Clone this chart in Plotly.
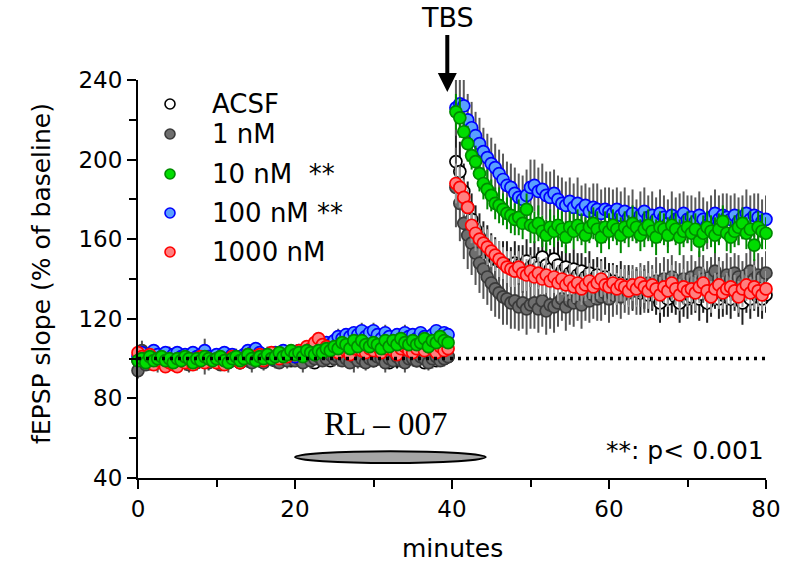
import numpy as np
import plotly.graph_objects as go

# ---------------- data (minutes, % of baseline) ----------------
sample_step = 0.5
t_base = list(np.arange(0, 40, sample_step))          # 0 .. 39.5
t_post = list(np.arange(40.5, 80.01, sample_step))    # 40.5 .. 80
minutes = t_base + t_post

acsf_base = [99, 101, 100, 98, 100, 101, 99, 100, 102, 100,
             99, 100, 101, 100, 98, 99, 101, 100, 100, 99,
             101, 100, 99, 100, 101, 100, 98, 100, 99, 101,
             100, 99, 100, 102, 100, 99, 100, 101, 100, 99,
             100, 101, 99, 100, 100, 98, 100, 101, 100, 99,
             100, 102, 101, 100, 99, 101, 100, 99, 101, 100,
             99, 100, 101, 100, 98, 100, 99, 101, 100, 100,
             101, 99, 100, 98, 100, 101, 99, 100, 100, 101]
acsf_post = [199, 194, 184, 176, 170, 165, 161, 158, 155, 152,
             150, 149, 148, 147, 146, 148, 147, 145, 149, 146,
             148, 146, 151, 147, 145, 150, 147, 144, 146, 143,
             145, 142, 144, 141, 143, 140, 142, 139, 141, 138,
             139, 137, 138, 136, 137, 134, 136, 133, 135, 132,
             134, 131, 128, 132, 130, 133, 131, 128, 132, 130,
             131, 133, 130, 132, 128, 131, 134, 130, 132, 131,
             130, 133, 131, 128, 132, 130, 133, 131, 130, 132]
acsf_base_err = [3, 2, 3, 4, 2, 3, 3, 2, 4, 3, 2, 3, 3, 2, 3, 4, 2, 3, 2, 3,
                 3, 2, 4, 3, 2, 3, 3, 2, 3, 2, 3, 3, 2, 4, 3, 2, 3, 3, 2, 3,
                 2, 3, 3, 2, 4, 3, 2, 3, 3, 2, 3, 2, 3, 3, 2, 4, 3, 2, 3, 3,
                 2, 3, 2, 3, 3, 2, 4, 3, 2, 3, 3, 2, 3, 2, 4, 3, 3, 2, 3, 2]
acsf_post_err = [16, 15, 14, 13, 13, 12, 12, 11, 12, 11, 11, 10, 11, 12, 10, 11, 10, 12, 11, 10,
                 11, 10, 12, 11, 10, 11, 12, 10, 11, 10, 10, 11, 9, 10, 11, 10, 9, 11, 10, 10,
                 9, 10, 11, 9, 10, 10, 9, 11, 10, 9, 10, 9, 10, 11, 9, 10, 9, 10, 11, 10,
                 9, 10, 11, 9, 10, 10, 9, 10, 11, 9, 10, 9, 10, 11, 9, 10, 9, 10, 10, 9]

nm1_base = [94, 104, 97, 99, 101, 98, 100, 97, 99, 100,
            98, 100, 99, 97, 100, 98, 99, 101, 98, 100,
            99, 97, 100, 98, 99, 101, 98, 100, 99, 98,
            100, 99, 98, 100, 101, 99, 98, 100, 99, 101,
            99, 100, 98, 101, 99, 100, 101, 99, 100, 102,
            100, 101, 99, 100, 98, 101, 99, 100, 98, 100,
            99, 101, 100, 98, 100, 99, 101, 99, 98, 100,
            100, 99, 101, 100, 98, 100, 101, 99, 100, 101]
nm1_post = [186, 178, 168, 162, 158, 153, 148, 145, 141, 138,
            135, 133, 131, 130, 128, 129, 126, 128, 125, 127,
            128, 125, 129, 124, 127, 126, 128, 130, 126, 129,
            128, 130, 127, 131, 129, 132, 130, 131, 133, 130,
            132, 134, 131, 135, 133, 136, 134, 137, 135, 138,
            136, 139, 137, 140, 138, 141, 139, 137, 140, 138,
            141, 139, 143, 140, 138, 141, 144, 140, 139, 142,
            140, 143, 141, 139, 142, 144, 140, 142, 141, 143]
nm1_base_err = [4, 5, 3, 4, 3, 5, 4, 3, 4, 3, 4, 3, 5, 4, 3, 4, 3, 9, 4, 3,
                4, 3, 4, 5, 3, 4, 3, 4, 3, 5, 4, 3, 4, 3, 5, 4, 3, 4, 4, 3,
                3, 4, 5, 3, 4, 3, 4, 3, 4, 3, 4, 5, 3, 4, 3, 8, 4, 3, 4, 3,
                3, 4, 3, 5, 4, 3, 4, 3, 5, 4, 4, 3, 4, 3, 4, 5, 4, 3, 4, 3]
nm1_post_err = [20, 19, 18, 17, 16, 16, 15, 15, 14, 14, 14, 13, 14, 13, 13, 14, 12, 13, 13, 12,
                13, 12, 13, 12, 12, 13, 12, 11, 12, 12, 12, 11, 12, 12, 11, 12, 11, 12, 11, 12,
                11, 12, 11, 12, 11, 11, 12, 11, 12, 11, 11, 12, 11, 11, 12, 11, 10, 11, 12, 11,
                11, 10, 11, 12, 11, 10, 11, 11, 10, 11, 11, 10, 11, 10, 11, 12, 10, 11, 10, 11]

nm10_base = [99, 100, 98, 101, 99, 100, 101, 99, 100, 98,
             100, 99, 101, 100, 98, 100, 99, 101, 100, 99,
             100, 101, 99, 98, 100, 101, 99, 100, 102, 100,
             99, 101, 100, 102, 100, 101, 103, 101, 102, 104,
             102, 103, 101, 104, 103, 102, 104, 103, 105, 104,
             106, 105, 108, 107, 105, 109, 106, 109, 107, 106,
             108, 107, 105, 109, 106, 109, 107, 110, 108, 107,
             109, 107, 108, 110, 106, 109, 108, 111, 109, 108]
nm10_post = [224, 221, 214, 208, 202, 199, 193, 188, 185, 182,
             178, 177, 175, 173, 172, 170, 171, 168, 175, 167,
             166, 168, 164, 162, 166, 164, 167, 165, 161, 166,
             164, 167, 165, 162, 166, 168, 165, 161, 166, 164,
             167, 165, 162, 166, 164, 168, 166, 162, 165, 167,
             164, 161, 166, 165, 162, 167, 165, 161, 164, 166,
             163, 165, 159, 163, 166, 164, 162, 165, 169, 163,
             161, 164, 166, 168, 163, 165, 157, 166, 164, 163]
nm10_base_err = [2, 3, 2, 3, 2, 2, 3, 2, 3, 2, 2, 3, 2, 2, 3, 2, 3, 2, 2, 3,
                 2, 3, 2, 3, 2, 2, 3, 2, 3, 2, 3, 2, 2, 3, 2, 3, 2, 2, 3, 2,
                 2, 3, 2, 3, 2, 3, 2, 2, 3, 3, 2, 3, 2, 3, 3, 2, 3, 2, 3, 2,
                 3, 2, 3, 2, 3, 3, 2, 3, 2, 3, 2, 3, 3, 2, 3, 2, 3, 3, 2, 3]
nm10_post_err = [9, 10, 8, 9, 7, 8, 9, 8, 10, 8, 8, 9, 8, 8, 9, 8, 9, 8, 8, 9,
                 8, 9, 8, 8, 9, 8, 8, 9, 8, 8, 9, 8, 8, 9, 8, 8, 9, 8, 8, 9,
                 8, 8, 9, 8, 8, 9, 8, 8, 9, 8, 8, 9, 8, 8, 9, 8, 8, 9, 8, 8,
                 9, 8, 8, 9, 8, 8, 9, 8, 8, 9, 8, 8, 9, 8, 8, 9, 8, 8, 9, 8]

nm100_base = [101, 103, 100, 102, 104, 102, 101, 103, 100, 102,
              103, 101, 102, 100, 103, 101, 102, 104, 101, 100,
              102, 101, 103, 100, 102, 101, 99, 102, 104, 103,
              105, 103, 101, 102, 100, 103, 101, 104, 102, 103,
              101, 104, 102, 105, 103, 104, 106, 105, 108, 107,
              109, 111, 110, 112, 111, 113, 112, 114, 111, 113,
              114, 112, 110, 113, 111, 109, 112, 110, 113, 111,
              112, 110, 113, 111, 109, 112, 114, 111, 113, 112]
nm100_post = [226, 228, 227, 220, 216, 212, 208, 204, 201, 198,
              196, 193, 190, 187, 186, 183, 181, 180, 182, 186,
              187, 184, 185, 182, 181, 183, 180, 178, 177, 179,
              176, 178, 175, 177, 174, 176, 175, 173, 175, 174,
              173, 175, 172, 174, 171, 173, 169, 172, 174, 171,
              172, 170, 173, 171, 168, 172, 170, 171, 173, 170,
              171, 169, 172, 170, 167, 171, 173, 170, 172, 171,
              170, 172, 169, 171, 173, 170, 172, 171, 169, 170]
nm100_base_err = [3, 2, 3, 3, 2, 3, 2, 3, 3, 2, 3, 2, 3, 2, 3, 3, 2, 3, 2, 3,
                  3, 2, 3, 3, 2, 3, 2, 3, 3, 2, 3, 3, 2, 3, 2, 3, 3, 2, 3, 3,
                  3, 2, 3, 3, 2, 3, 3, 2, 3, 4, 3, 4, 3, 3, 4, 3, 3, 4, 3, 3,
                  4, 3, 3, 4, 3, 4, 3, 3, 4, 3, 3, 4, 3, 3, 4, 3, 3, 4, 3, 3]
nm100_post_err = [14, 15, 14, 13, 13, 12, 13, 12, 12, 13, 12, 12, 13, 12, 12, 13, 12, 12, 13, 14,
                  13, 12, 13, 12, 13, 12, 12, 13, 12, 12, 12, 13, 12, 11, 12, 12, 13, 12, 11, 12,
                  12, 11, 12, 12, 11, 12, 11, 12, 12, 11, 12, 11, 12, 11, 12, 12, 11, 12, 11, 12,
                  11, 12, 12, 11, 12, 11, 12, 12, 11, 12, 12, 11, 12, 11, 12, 12, 11, 12, 11, 12]

nm1000_base = [103, 101, 99, 102, 97, 99, 100, 96, 98, 97,
               96, 99, 98, 100, 97, 99, 101, 98, 100, 99,
               98, 100, 97, 99, 101, 100, 98, 100, 102, 101,
               100, 102, 99, 101, 103, 101, 100, 102, 101, 103,
               102, 104, 103, 106, 105, 108, 110, 107, 106, 104,
               105, 103, 106, 104, 102, 105, 107, 104, 103, 105,
               104, 106, 103, 105, 107, 104, 102, 105, 106, 104,
               103, 105, 107, 104, 106, 105, 103, 106, 104, 105]
nm1000_post = [188, 186, 181, 176, 167, 163, 160, 158, 156, 154,
               152, 150, 148, 146, 145, 144, 146, 143, 142, 144,
               141, 143, 140, 142, 139, 141, 138, 140, 137, 139,
               136, 138, 135, 137, 139, 136, 138, 140, 137, 136,
               138, 135, 137, 136, 134, 137, 135, 138, 136, 134,
               137, 135, 132, 136, 134, 138, 135, 132, 136, 134,
               135, 133, 136, 138, 134, 131, 135, 137, 133, 135,
               136, 134, 131, 135, 137, 133, 136, 134, 132, 135]
nm1000_base_err = [3, 2, 3, 2, 3, 3, 2, 3, 2, 3, 2, 3, 3, 2, 3, 2, 3, 2, 3, 3,
                   2, 3, 2, 3, 3, 2, 3, 2, 3, 2, 3, 3, 2, 3, 2, 3, 2, 3, 3, 2,
                   3, 2, 3, 3, 2, 3, 2, 3, 2, 3, 3, 2, 3, 2, 3, 3, 2, 3, 2, 3,
                   2, 3, 3, 2, 3, 2, 3, 3, 2, 3, 3, 2, 3, 2, 3, 3, 2, 3, 2, 3]
nm1000_post_err = [10, 10, 9, 9, 9, 9, 8, 8, 9, 8, 8, 9, 8, 8, 9, 8, 8, 9, 8, 8,
                   9, 8, 8, 9, 8, 8, 9, 8, 8, 9, 8, 9, 8, 8, 9, 8, 8, 9, 8, 8,
                   9, 8, 8, 9, 8, 8, 9, 8, 8, 9, 8, 8, 9, 8, 8, 9, 8, 8, 9, 8,
                   8, 9, 8, 8, 9, 8, 8, 12, 8, 8, 9, 8, 8, 9, 8, 8, 11, 8, 8, 9]

series_names = ["ACSF", "1 nM", "10 nM", "100 nM", "1000 nM"]
legend_labels = ["ACSF", "1 nM", "10 nM  **", "100 nM **", "1000 nM"]
baseline_level = 100
tbs_time = 39.4
drug_start, drug_end = 20, 44.3
x_ticks = [0, 20, 40, 60, 80]
y_ticks = [40, 80, 120, 160, 200, 240]

series = {
    "ACSF": (acsf_base + acsf_post, acsf_base_err + acsf_post_err),
    "1 nM": (nm1_base + nm1_post, nm1_base_err + nm1_post_err),
    "10 nM": (nm10_base + nm10_post, nm10_base_err + nm10_post_err),
    "100 nM": (nm100_base + nm100_post, nm100_base_err + nm100_post_err),
    "1000 nM": (nm1000_base + nm1000_post, nm1000_base_err + nm1000_post_err),
}

styles = {
    "ACSF": dict(fill="#ffffff", line="#000000", err="#222222"),
    "1 nM": dict(fill="#6e6e6e", line="#3a3a3a", err="#555555"),
    "10 nM": dict(fill="#00dd00", line="#008a00", err="#008a00"),
    "100 nM": dict(fill="#5aa0ff", line="#0000ff", err="#5a5a5a"),
    "1000 nM": dict(fill="#ff8080", line="#ff0000", err="#9a9a9a"),
}

draw_order = ["ACSF", "1 nM", "100 nM", "1000 nM", "10 nM"]

FONT = "DejaVu Sans"

fig = go.Figure()
for name in draw_order:
    vals, errs = series[name]
    st = styles[name]
    fig.add_trace(go.Scatter(
        x=minutes, y=vals, mode="markers", name=name,
        marker=dict(size=12, color=st["fill"], line=dict(color=st["line"], width=1.7)),
        error_y=dict(type="data", array=errs, visible=True, color=st["err"],
                     thickness=2, width=0),
        cliponaxis=False, showlegend=False,
    ))

# dotted baseline
fig.add_trace(go.Scatter(
    x=[0, 80], y=[baseline_level, baseline_level], mode="lines",
    line=dict(color="black", width=3.5, dash="3px,5px"),
    showlegend=False, hoverinfo="skip",
))

shapes = []
annotations = []

# manual legend
leg_rows_px = [104, 134, 174, 213, 252]
plot_top, plot_bottom, plot_left, plot_right = 80, 478, 138, 766
ph = plot_bottom - plot_top
pw = plot_right - plot_left
for name, lab, py in zip(series_names, legend_labels, leg_rows_px):
    st = styles[name]
    yp = (plot_bottom - py) / ph
    xm = (170 - plot_left) / pw
    shapes.append(dict(type="circle", xref="paper", yref="paper",
                       xsizemode="pixel", ysizemode="pixel",
                       xanchor=xm, yanchor=yp, x0=-5, x1=5, y0=-5, y1=5,
                       fillcolor=st["fill"], line=dict(color=st["line"], width=1.6)))
    annotations.append(dict(x=(210 - plot_left) / pw, y=yp, xref="paper", yref="paper",
                            text=lab, showarrow=False, xanchor="left", yanchor="middle",
                            font=dict(family=FONT, size=26, color="black")))

# drug application ellipse
shapes.append(dict(type="circle", xref="x", yref="y", x0=drug_start, x1=drug_end,
                   y0=47.5, y1=53.5, fillcolor="#a6a6a6", line=dict(color="black", width=2),
                   layer="above"))
annotations.append(dict(x=31.5, y=67, xref="x", yref="y", text="RL – 007", showarrow=False,
                        font=dict(family="Liberation Serif", size=33, color="black")))

# TBS arrow
annotations.append(dict(x=tbs_time, y=234, xref="x", yref="y", text="TBS",
                        showarrow=True, ax=0, ay=-74, arrowhead=2, arrowsize=0.95,
                        arrowwidth=4, arrowcolor="black",
                        font=dict(family=FONT, size=27, color="black")))

# p-value note
annotations.append(dict(x=1.0, y=(plot_bottom - 450) / ph, xref="paper", yref="paper",
                        text="**: p< 0.001", showarrow=False, xanchor="right", yanchor="middle",
                        font=dict(family=FONT, size=25, color="black")))

# axis titles
annotations.append(dict(x=0.5, y=(plot_bottom - 548) / ph, xref="paper", yref="paper",
                        text="minutes", showarrow=False, xanchor="center", yanchor="middle",
                        font=dict(family=FONT, size=25, color="black")))
annotations.append(dict(x=(41 - plot_left) / pw, y=(plot_bottom - 274) / ph, xref="paper",
                        yref="paper", text="fEPSP slope (% of baseline)", showarrow=False,
                        textangle=-90, xanchor="center", yanchor="middle",
                        font=dict(family=FONT, size=25, color="black")))

fig.update_layout(
    width=795, height=565,
    margin=dict(l=plot_left, r=795 - plot_right, t=plot_top, b=565 - plot_bottom),
    paper_bgcolor="white", plot_bgcolor="white",
    shapes=shapes, annotations=annotations,
    font=dict(family=FONT, size=23, color="black"),
)
fig.update_xaxes(
    range=[0, 80], tickvals=x_ticks, showline=True, linecolor="black", linewidth=2,
    ticks="outside", ticklen=9, tickwidth=2, tickcolor="black", showgrid=False,
    zeroline=False, tickfont=dict(family=FONT, size=23),
    minor=dict(tickvals=[10, 30, 50, 70], ticks="outside", ticklen=7, tickwidth=2,
               tickcolor="black", showgrid=False),
)
fig.update_yaxes(
    range=[40, 240], tickvals=y_ticks, showline=True, linecolor="black", linewidth=2,
    ticks="outside", ticklen=9, tickwidth=2, tickcolor="black", showgrid=False,
    zeroline=False, tickfont=dict(family=FONT, size=23),
    minor=dict(tickvals=[60, 100, 140, 180, 220], ticks="outside", ticklen=7, tickwidth=2,
               tickcolor="black", showgrid=False),
)

fig.write_html("out.html")
